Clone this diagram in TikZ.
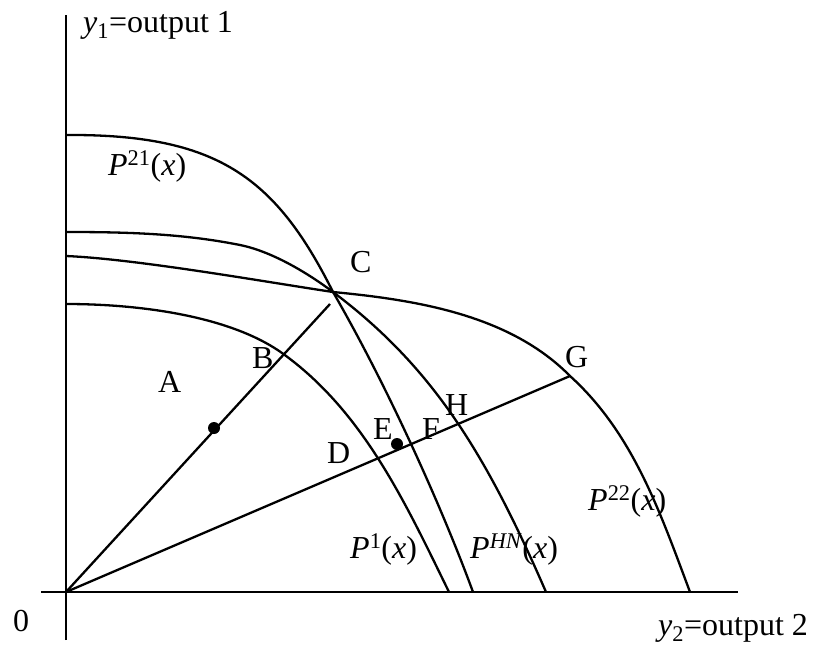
\documentclass[tikz,border=0pt]{standalone}
\usepackage{fontspec}
\setmainfont{Liberation Serif}
\begin{document}
\begin{tikzpicture}[x=1pt,y=-1pt,
  curve/.style={line width=2.3pt, line join=round},
  axis/.style={line width=2.8pt},
  ray/.style={line width=2.3pt},
  lbl/.style={anchor=base west, inner sep=0pt, font=\fontsize{32}{38}\selectfont},
  dot/.style={circle, fill=black, inner sep=0pt, minimum size=12pt}]
\useasboundingbox (0,0) rectangle (814,646);
% axes
\coordinate (O) at (66,592);
\coordinate (ytop) at (66,15);
\coordinate (ybot) at (66,640);
\coordinate (xl) at (41,592);
\coordinate (xr) at (738,592);
\draw[axis] (ybot) -- (ytop);
\draw[axis] (xl) -- (xr);
% key points
\coordinate (C) at (333,292);
\coordinate (B) at (282,353);
\coordinate (G) at (570,376);
% P^21
\draw[curve] (66,135) .. controls (216,134) and (275,176) .. (C)
  .. controls (388,387) and (443,510) .. (473,592);
% P^HN
\draw[curve] (66,232) .. controls (126,232) and (182,233.4) .. (240,245)
  .. controls (270,251) and (305,271) .. (C)
  .. controls (433,367) and (486,454) .. (546,592);
% P^22
\draw[curve] (66,256) .. controls (136,259) and (260,281) .. (C)
  .. controls (417,300) and (510,315) .. (G)
  .. controls (633,433) and (660,512) .. (690,592);
% P^1
\draw[curve] (66,304) .. controls (140,304) and (230,316) .. (B)
  .. controls (363,411) and (405,502) .. (449,592);
% rays
\coordinate (R1) at (330,304);
\draw[ray] (O) -- (R1);
\draw[ray] (O) -- (G);
\node[dot] (dotA) at (214,428) {};
\node[dot] (dotE) at (397,444) {};
% labels
\node[lbl] (ylab) at (83,32) {\textit{y}\textsubscript{1}=output 1};
\node[lbl] (p21) at (108,175) {\textit{P}\textsuperscript{21}(\textit{x})};
\node[lbl] (lC) at (350,272) {C};
\node[lbl] (lA) at (158,392) {A};
\node[lbl] (lB) at (252,368) {B};
\node[lbl] (lD) at (327,463) {D};
\node[lbl] (lE) at (373,439) {E};
\node[lbl] (lF) at (422,439) {F};
\node[lbl] (lH) at (445,415) {H};
\node[lbl] (lG) at (565,367) {G};
\node[lbl] (p1) at (350,558) {\textit{P}\textsuperscript{1}(\textit{x})};
\node[lbl] (phn) at (470,558) {\textit{P}\textsuperscript{\textit{HN}}(\textit{x})};
\node[lbl] (p22) at (588,510) {\textit{P}\textsuperscript{22}(\textit{x})};
\node[lbl] (zero) at (13,631) {0};
\node[lbl] (xlab) at (658,635) {\textit{y}\textsubscript{2}=output 2};
\end{tikzpicture}
\end{document}
